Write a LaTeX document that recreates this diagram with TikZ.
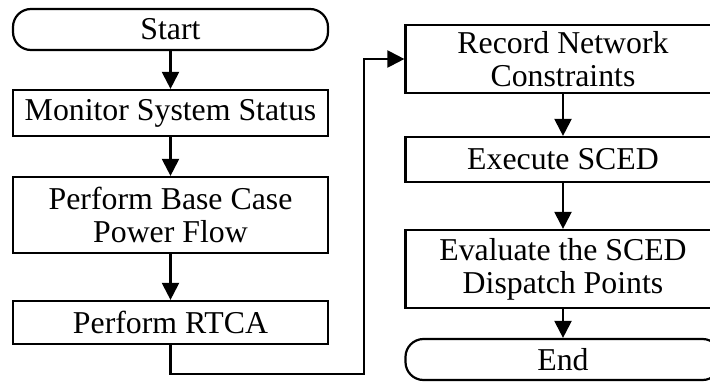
\documentclass[tikz,border=0pt]{standalone}
\usepackage{fontspec}
\setmainfont{Liberation Serif}
\usetikzlibrary{arrows.meta}
\tikzset{
  box/.style={draw, line width=2.2pt, inner sep=0pt, minimum width=315pt, align=center,
    font=\fontsize{31.8}{33}\selectfont},
  term/.style={box, rounded corners=18pt},
  arr/.style={line width=2.2pt, -{Triangle[length=17pt,width=17pt]}}
}
\begin{document}
\begin{tikzpicture}[x=1pt,y=-1pt]
\useasboundingbox (0,0) rectangle (710,383);
\clip (0,0) rectangle (710,383);
\node[term, minimum height=41pt] (start) at (170.5,29.5) {Start};
\node[box, minimum height=46pt] (mon) at (170.5,113) {Monitor System Status};
\node[box, minimum height=76pt] (pbc) at (170.5,215) {Perform Base Case\\Power Flow};
\node[box, minimum height=43pt] (rtca) at (170.5,322.5) {Perform RTCA};
\node[box, minimum height=68pt] (rec) at (563,59) {Record Network\\Constraints};
\node[box, minimum height=45pt] (sced) at (563,159.5) {Execute SCED};
\node[box, minimum height=78pt] (eval) at (563,269) {Evaluate the SCED\\Dispatch Points};
\node[term, minimum height=41pt] (end) at (563,359.5) {End};
\coordinate (c1) at (170.5,374);
\coordinate (c2) at (364,374);
\coordinate (c3) at (364,59);
\draw[arr] (start) -- (mon);
\draw[arr] (mon) -- (pbc);
\draw[arr] (pbc) -- (rtca);
\draw[arr] (rtca.south) -- (c1) -- (c2) -- (c3) -- (rec.west);
\draw[arr] (rec) -- (sced);
\draw[arr] (sced) -- (eval);
\draw[arr] (eval) -- (end);
\end{tikzpicture}
\end{document}
